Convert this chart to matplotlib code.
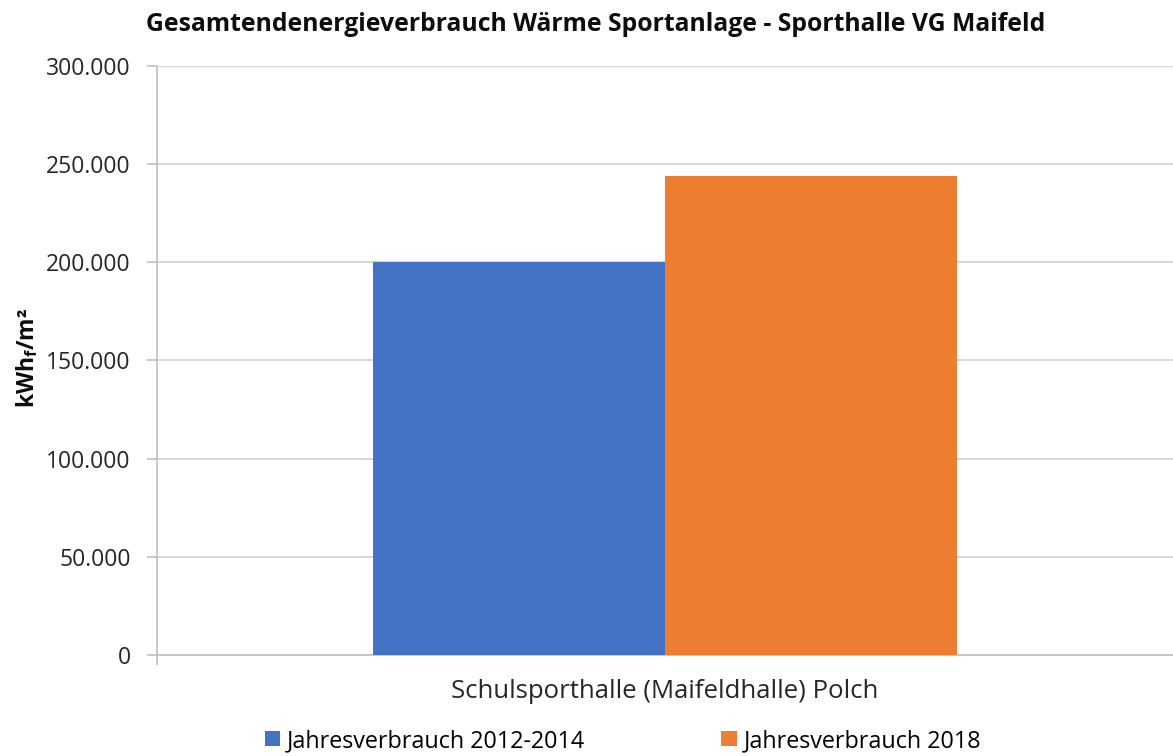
import matplotlib
matplotlib.use("Agg")
import matplotlib.pyplot as plt
from matplotlib.ticker import FuncFormatter

plt.rcParams['font.family'] = ['Open Sans', 'DejaVu Sans']
plt.rcParams['mathtext.fontset'] = 'custom'
plt.rcParams['mathtext.rm'] = 'Open Sans:bold'
plt.rcParams['mathtext.it'] = 'Open Sans:bold'
plt.rcParams['mathtext.bf'] = 'Open Sans:bold'

category = "Schulsporthalle (Maifeldhalle) Polch"
series = ["Jahresverbrauch 2012-2014", "Jahresverbrauch 2018"]
values = [200000, 244000]
colors = ["#4472c4", "#ed7d31"]
yticks = [0, 50000, 100000, 150000, 200000, 250000, 300000]

fig = plt.figure(figsize=(11.73, 7.56), dpi=100)
ax = fig.add_axes([0.134, 0.1336, 0.866, 0.7791])

w = 0.2874
for i, (name, v) in enumerate(zip(series, values)):
    ax.bar((i - 0.5) * w, v, width=w, color=colors[i], label=name, zorder=3)

ax.set_xlim(-0.5, 0.5)
ax.set_ylim(0, 300000)
ax.set_yticks(yticks)
ax.yaxis.set_major_formatter(FuncFormatter(lambda v, p: f"{int(v):,}".replace(",", ".")))
ax.set_xticks([0])
ax.set_xticklabels([category])
ax.set_xticks([-0.5], minor=True)
ax.grid(axis='y', color='#d0d0d0', linewidth=1.2, zorder=0)

for s in ['top', 'right']:
    ax.spines[s].set_visible(False)
for s in ['left', 'bottom']:
    ax.spines[s].set_color('#bfbfbf')
    ax.spines[s].set_linewidth(1.2)
ax.tick_params(axis='y', colors='#bfbfbf', labelcolor='#262626', labelsize=16.5, length=7, width=1.2, pad=12)
ax.tick_params(axis='x', which='major', length=0, labelsize=18.5, labelcolor='#262626', pad=17)
ax.tick_params(axis='x', which='minor', length=7, width=1.2, color='#bfbfbf')

fig.text(27 / 1173, 1 - 358 / 756, r"kWh$_\mathrm{f}$/m²", rotation=90, ha='center', va='center',
         fontsize=16.5, fontweight='bold', color='#0d0d0d')
fig.text(0.508, 0.968, "Gesamtendenergieverbrauch Wärme Sportanlage - Sporthalle VG Maifeld",
         ha='center', va='center', fontsize=17.8, fontweight='bold', color='#0d0d0d')

fig.legend(loc='center', bbox_to_anchor=(0.531, 0.02), ncol=2, frameon=False,
           fontsize=16.8, handlelength=0.65, handleheight=0.65, handletextpad=0.3,
           columnspacing=5.85)

fig.savefig("out.png", dpi=100)
